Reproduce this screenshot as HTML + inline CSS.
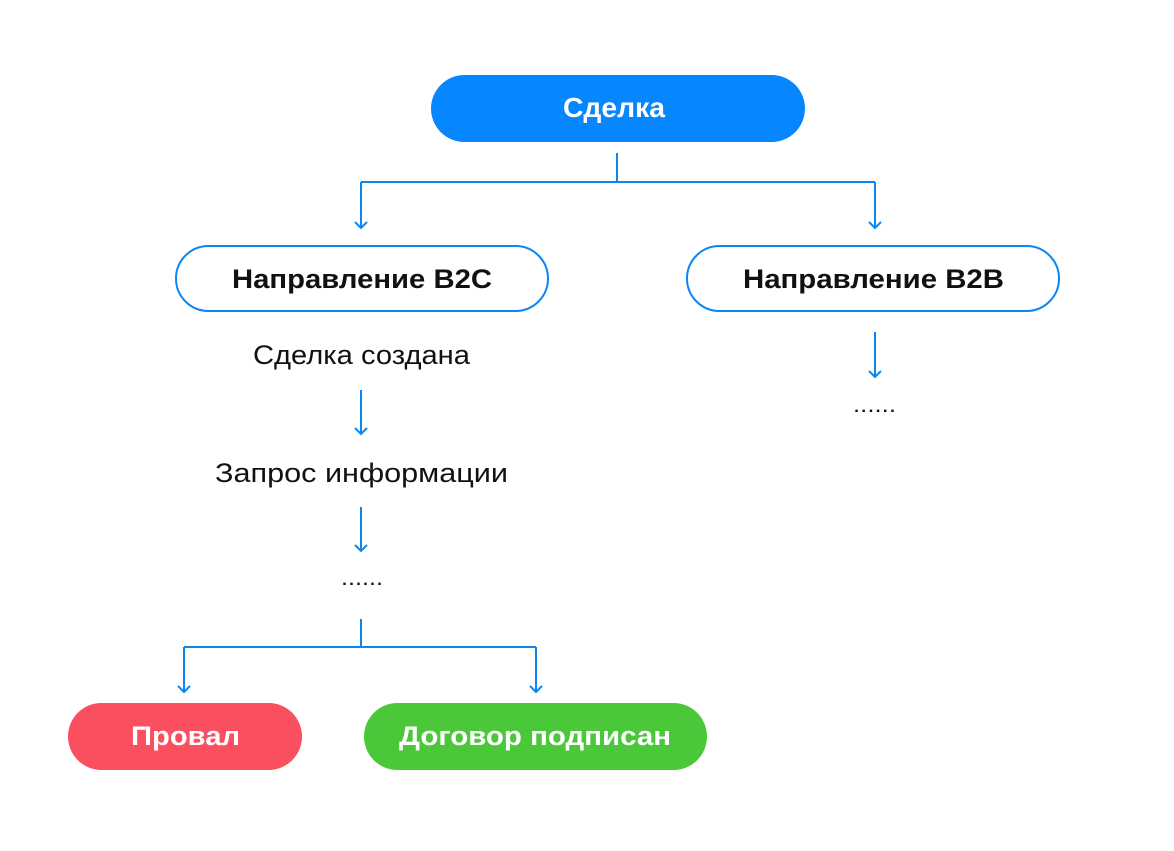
<!DOCTYPE html>
<html><head><meta charset="utf-8"><style>
html,body{margin:0;padding:0;background:#fff;}
svg{display:block;}
text{font-family:"Liberation Sans","DejaVu Sans",sans-serif;}
</style></head><body>
<svg width="1174" height="851" viewBox="0 0 1174 851" xmlns="http://www.w3.org/2000/svg">
<g fill="none" stroke="#0a86f5" stroke-width="2">
<path d="M617 153V182M361 182H875M361 182V228M875 182V228"/>
<path d="M355 222L361 228L367 222M869 222L875 228L881 222"/>
<path d="M361 390V434M355 428L361 434L367 428"/>
<path d="M361 507V551M355 545L361 551L367 545"/>
<path d="M875 332V377M869 371L875 377L881 371"/>
<path d="M361 619V647M184 647H536M184 647V692M536 647V692"/>
<path d="M178 686L184 692L190 686M530 686L536 692L542 686"/>
</g>
<rect x="431" y="75" width="374" height="67" rx="33.5" fill="#0787ff"/>
<text x="563" y="117" textLength="102" lengthAdjust="spacingAndGlyphs" font-size="28" font-weight="bold" fill="#fff">Сделка</text>
<rect x="176" y="246" width="372" height="65" rx="32.5" fill="#fff" stroke="#0a86f5" stroke-width="2"/>
<text x="232" y="288" textLength="260" lengthAdjust="spacingAndGlyphs" font-size="27" font-weight="bold" fill="#111">Направление B2C</text>
<rect x="687" y="246" width="372" height="65" rx="32.5" fill="#fff" stroke="#0a86f5" stroke-width="2"/>
<text x="743" y="288" textLength="261" lengthAdjust="spacingAndGlyphs" font-size="27" font-weight="bold" fill="#111">Направление B2B</text>
<text x="253" y="364" textLength="217" lengthAdjust="spacingAndGlyphs" font-size="27" fill="#111">Сделка создана</text>
<text x="215" y="482" textLength="293" lengthAdjust="spacingAndGlyphs" font-size="27" fill="#111">Запрос информации</text>
<text x="341" y="585" textLength="42" lengthAdjust="spacingAndGlyphs" font-size="22" fill="#111">......</text>
<text x="853" y="412" textLength="43" lengthAdjust="spacingAndGlyphs" font-size="22" fill="#111">......</text>
<rect x="68" y="703" width="234" height="67" rx="33.5" fill="#f94f5e"/>
<text x="131" y="745" textLength="109" lengthAdjust="spacingAndGlyphs" font-size="27" font-weight="bold" fill="#fff">Провал</text>
<rect x="364" y="703" width="343" height="67" rx="33.5" fill="#4bc73a"/>
<text x="399" y="745" textLength="272" lengthAdjust="spacingAndGlyphs" font-size="27" font-weight="bold" fill="#fff">Договор подписан</text>
</svg>
</body></html>
